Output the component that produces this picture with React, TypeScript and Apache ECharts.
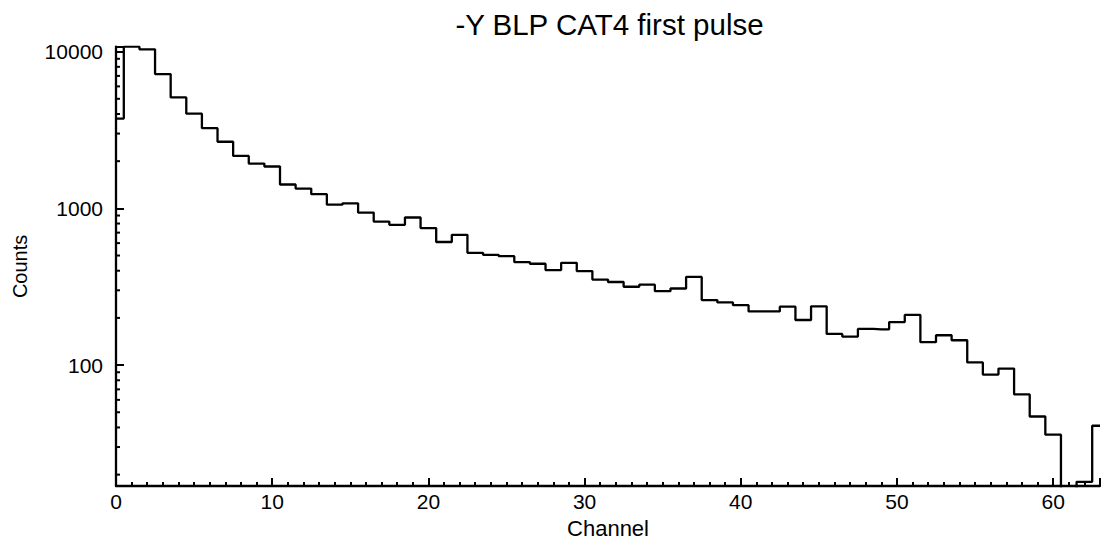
import React, { useEffect, useRef } from "react";
import * as echarts from "echarts";

// Histogram: counts per channel (bin centred on each channel number)
const channels: number[] = [
  0, 1, 2, 3, 4, 5, 6, 7, 8, 9, 10, 11, 12, 13, 14, 15, 16, 17, 18, 19, 20, 21,
  22, 23, 24, 25, 26, 27, 28, 29, 30, 31, 32, 33, 34, 35, 36, 37, 38, 39, 40, 41,
  42, 43, 44, 45, 46, 47, 48, 49, 50, 51, 52, 53, 54, 55, 56, 57, 58, 59, 60, 61,
  62, 63,
];
const counts: number[] = [
  3740, 10750, 10350, 7190, 5100, 4020, 3250, 2660, 2160, 1930, 1850, 1420, 1337,
  1231, 1055, 1076, 940, 824, 785, 874, 748, 610, 678, 520, 505, 495, 454, 443, 404,
  449, 398, 351, 339, 316, 326, 296, 308, 365, 260, 251, 241, 220, 220, 236, 194,
  237, 158, 152, 170, 169, 188, 209, 140, 155, 144, 104, 87, 95, 65, 47, 36, 16, 18,
  41,
];

// Axis settings
const xTickLabels: number[] = [0, 10, 20, 30, 40, 50, 60];
const yMinorTickValues: number[] = [
  20, 30, 40, 50, 60, 70, 80, 90, 200, 300, 400, 500, 600, 700, 800, 900, 2000, 3000,
  4000, 5000, 6000, 7000, 8000, 9000,
];
const title = "-Y BLP CAT4 first pulse";
const xName = "Channel";
const yName = "Counts";

const FONT = "'Liberation Sans', Arial, Helvetica, sans-serif";

export default function App() {
  const ref = useRef<HTMLDivElement>(null);
  useEffect(() => {
    if (!ref.current) return;
    const chart = echarts.init(ref.current, undefined, { renderer: "svg" });
    const histData = channels.map((c, i) => [c, counts[i]]);
    chart.setOption({
      animation: false,
      backgroundColor: "#fff",
      textStyle: { fontFamily: FONT, color: "#000" },
      grid: { left: 116, right: 0, top: 46.7, bottom: 53.3, containLabel: false },
      graphic: [
        {
          type: "text",
          x: 609.5,
          y: 24,
          style: {
            text: title,
            fill: "#000",
            font: `29.5px ${FONT}`,
            align: "center",
            verticalAlign: "middle",
          },
        },
      ],
      xAxis: {
        type: "value",
        min: 0,
        max: 63,
        interval: 10,
        name: xName,
        nameLocation: "middle",
        nameGap: 23,
        nameTextStyle: { fontSize: 22, color: "#000", fontFamily: FONT, verticalAlign: "top" },
        axisLine: { show: true, onZero: false, lineStyle: { color: "#000", width: 2.3 } },
        axisTick: { show: true, inside: true, length: 8, lineStyle: { color: "#000", width: 2 } },
        minorTick: { show: true, splitNumber: 10, length: 4, lineStyle: { color: "#000", width: 2 } },
        splitLine: { show: false },
        minorSplitLine: { show: false },
        axisLabel: {
          fontSize: 21,
          color: "#000",
          fontFamily: FONT,
          margin: 5,
          formatter: (v: number) => (xTickLabels.includes(v) ? String(v) : ""),
        },
      },
      yAxis: {
        type: "log",
        logBase: 10,
        min: 16.9,
        max: 10750,
        name: yName,
        nameLocation: "middle",
        nameRotate: 90,
        nameGap: 86,
        nameTextStyle: { fontSize: 20, color: "#000", fontFamily: FONT },
        axisLine: { show: true, onZero: false, lineStyle: { color: "#000", width: 2.3 } },
        axisTick: { show: true, inside: true, length: 8, lineStyle: { color: "#000", width: 2 } },
        splitLine: { show: false },
        axisLabel: {
          fontSize: 21,
          color: "#000",
          fontFamily: FONT,
          margin: 13,
          formatter: (v: number) => {
            const l = Math.log10(v);
            return Math.abs(l - Math.round(l)) < 1e-6 ? String(Math.round(v)) : "";
          },
        },
      },
      series: [
        {
          type: "line",
          step: "middle",
          data: histData,
          showSymbol: false,
          symbol: "none",
          clip: true,
          lineStyle: { color: "#000", width: 2.3 },
          silent: true,
        },
        {
          type: "custom",
          silent: true,
          clip: false,
          data: yMinorTickValues.map((v) => [0, v]),
          renderItem: (_params: any, api: any) => {
            const p = api.coord([api.value(0), api.value(1)]);
            return {
              type: "line",
              shape: { x1: p[0], y1: p[1], x2: p[0] + 4, y2: p[1] },
              style: { stroke: "#000", lineWidth: 2 },
            };
          },
        },
      ],
    });
    return () => chart.dispose();
  }, []);
  return (
    <div
      ref={ref}
      style={{ position: "absolute", left: 0, top: 0, width: 1103, height: 544 }}
    />
  );
}
